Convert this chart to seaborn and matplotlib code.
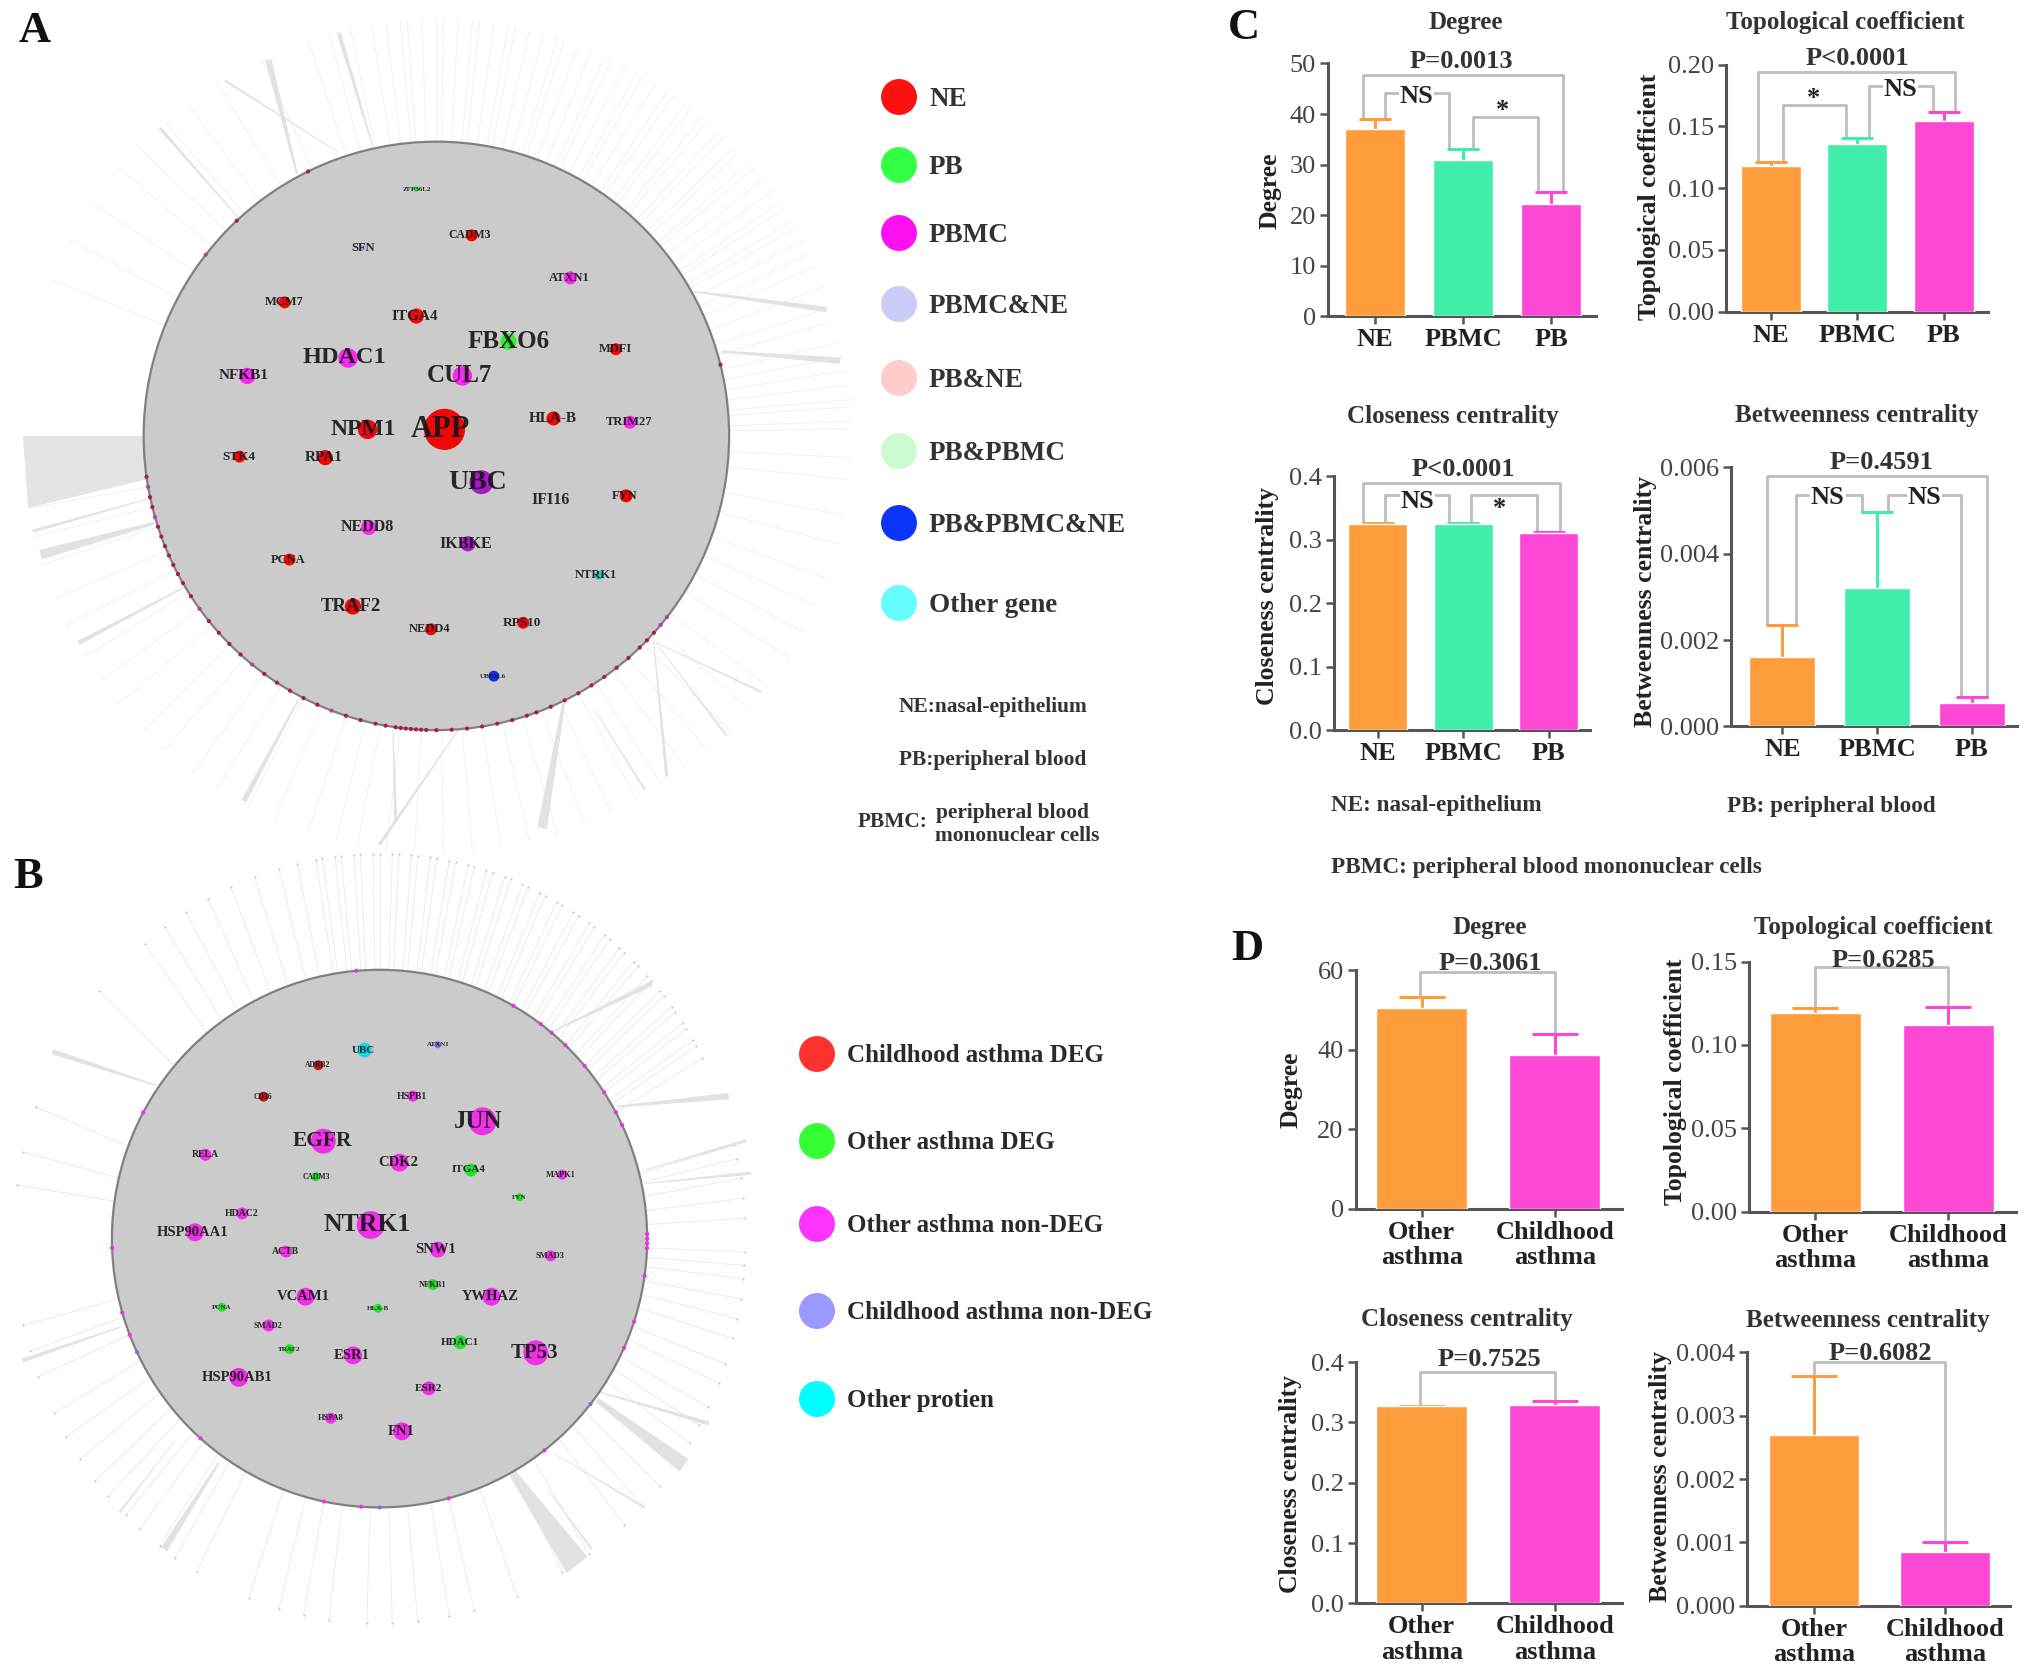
import numpy as np
import pandas as pd
import matplotlib
matplotlib.use("Agg")
import matplotlib.pyplot as plt
from matplotlib.patches import Ellipse
import seaborn as sns

sns.set_theme(style="ticks")
plt.rcParams['font.family'] = ['Liberation Serif', 'DejaVu Serif']

W, H = 2031, 1667
ORANGE, GREEN, PINK = '#ff9c3c', '#40eeaa', '#fc48d4'
DARK = '#222222'

A_names = ['APP', 'NPM1', 'HDAC1', 'FBXO6', 'CUL7', 'UBC', 'NFKB1', 'ITGA4', 'CADM3', 'SFN', 'ZFP36L2',
           'ATXN1', 'MCM7', 'MDFI', 'HLA-B', 'TRIM27', 'STK4', 'RPA1', 'IFI16', 'FYN', 'NEDD8', 'IKBKE',
           'PCNA', 'NTRK1', 'TRAF2', 'NEDD4', 'RPS10', 'UBE2L6']
A_x = [820, 678, 642, 938, 853, 888, 456, 768, 870, 670, 768, 1052, 525, 1136, 1021, 1162, 442, 600, 1015,
       1155, 680, 863, 534, 1105, 651, 795, 965, 911]
A_y = [788, 788, 657, 627, 690, 885, 690, 580, 432, 455, 347, 510, 555, 641, 768, 775, 838, 840, 918, 910,
       968, 998, 1027, 1056, 1113, 1155, 1143, 1241]
A_r = [38, 18, 18, 15, 18, 22, 15, 14, 11, 5, 5, 12, 11, 11, 13, 12, 11, 14, 3, 12, 14, 14, 11, 8, 15, 11, 11, 10]
A_group = ['NE', 'NE', 'PBMC', 'PB', 'PBMC', 'Mix', 'PBMC', 'NE', 'NE', 'PBMC&NE', 'PB', 'PBMC', 'NE', 'NE',
           'NE', 'PBMC', 'NE', 'NE', 'PB&NE', 'NE', 'PBMC', 'Mix', 'NE', 'Other', 'NE', 'NE', 'NE', 'All']
A_tx = [812, 670, 636, 938, 848, 882, 450, 766, 866, 670, 768, 1050, 524, 1135, 1020, 1160, 440, 598, 1015,
        1153, 678, 860, 532, 1100, 647, 793, 963, 910]
A_fs = [22, 17, 17.5, 18, 18, 20, 11, 11, 8.5, 9, 5, 9, 9, 9, 11, 9, 9.5, 11, 11.5, 9, 11.5, 11.5, 9, 9, 13.5, 9, 9.5, 5]

A_spoke_angles = [1, 2, 4, 5, 7, 9, 11, 13, 16, 18, 21, 24, 26, 28, 30, 31, 33, 34, 36, 38, 40, 41, 43, 44, 46, 47,
                  49, 50, 52, 53, 55, 56, 58, 60, 61, 63, 65, 66, 68, 70, 72, 73, 75, 77, 79, 80, 82, 84, 85, 87,
                  89, 90, 92, 94, 95, 97, 99, 102, 105, 108, 115, 122, 127, 131, 136, 140, 146, 152, 158, 186,
                  190, 194, 198, 203, 207, 212, 216, 220, 225, 229, 234, 238, 243, 247, 252, 256, 259, 263, 267,
                  271, 275, 279, 283, 287, 291, 295, 299, 303, 307, 311, 315, 319, 323, 328, 332, 336, 340, 345,
                  349, 354, 357]
A_rim_angles = [188, 190, 192, 194, 196, 198, 200, 202, 204, 206, 208, 210, 213, 216, 219, 222, 225, 228, 231, 234,
                237, 240, 243, 246, 249, 252, 255, 258, 260, 262, 263, 264, 265, 266, 267, 268, 270, 273, 276, 279,
                282, 285, 288, 290, 293, 296, 299, 302, 305, 308, 311, 314, 316, 318, 320, 322, 116, 133, 142, 14]
A_rim_group = ['RimN', 'RimP', 'RimN', 'RimN', 'RimP', 'RimN', 'RimN', 'RimN', 'RimN', 'RimN', 'RimN', 'RimN', 'RimN',
               'RimP', 'RimN', 'RimN', 'RimN', 'RimN', 'RimP', 'RimN', 'RimN', 'RimN', 'RimN', 'RimN', 'RimP', 'RimN',
               'RimN', 'RimN', 'RimN', 'RimN', 'RimN', 'RimN', 'RimN', 'RimN', 'RimN', 'RimN', 'RimN', 'RimN', 'RimN',
               'RimN', 'RimN', 'RimN', 'RimN', 'RimN', 'RimN', 'RimN', 'RimN', 'RimN', 'RimN', 'RimN', 'RimN', 'RimN',
               'RimN', 'RimN', 'RimP', 'RimP', 'RimN', 'RimN', 'RimP', 'RimN']
# start x, start y, end x, end y, outer width
A_thick = [(548, 320, 495, 110, 6), (688, 270, 625, 60, 4), (625, 280, 415, 148, 2), (440, 400, 295, 235, 3),
           (1280, 535, 1525, 568, 5), (1330, 645, 1550, 662, 6), (285, 960, 75, 1018, 9), (275, 915, 60, 975, 3),
           (345, 1075, 145, 1180, 4), (845, 1340, 700, 1550, 3), (1040, 1290, 1000, 1520, 9),
           (1205, 1170, 1230, 1425, 3), (725, 1340, 730, 1510, 3), (550, 1285, 450, 1470, 5),
           (1095, 1300, 1190, 1450, 2), (1210, 1180, 1340, 1350, 2), (1190, 1170, 1405, 1270, 2)]
A_wedge_x = [265, 42, 52, 270]
A_wedge_y = [800, 800, 932, 880]

# ---------- panel B network
B_names = ['JUN', 'EGFR', 'NTRK1', 'UBC', 'ATXN1', 'ADRB2', 'CD36', 'HSPB1', 'RELA', 'CDK2', 'ITGA4', 'MAPK1',
           'CADM3', 'FYN', 'HDAC2', 'HSP90AA1', 'ACTB', 'SNW1', 'SMAD3', 'NFKB1', 'YWHAZ', 'VCAM1', 'PCNA',
           'HLA-B', 'SMAD2', 'TRAF2', 'ESR1', 'HDAC1', 'TP53', 'HSP90AB1', 'ESR2', 'HSPA8', 'FN1']
B_x = [970, 650, 745, 733, 880, 640, 530, 830, 413, 803, 947, 1130, 635, 1045, 487, 392, 575, 880, 1107, 870,
       988, 614, 446, 760, 540, 582, 710, 925, 1077, 480, 862, 665, 808]
B_y = [518, 556, 716, 382, 372, 411, 471, 470, 582, 597, 611, 620, 624, 663, 694, 730, 767, 763, 775, 830, 853,
       853, 873, 875, 908, 953, 965, 940, 960, 1007, 1028, 1085, 1110]
B_r = [28, 25, 28, 15, 7, 10, 10, 11, 12, 18, 13, 10, 9, 8, 12, 18, 12, 16, 11, 11, 18, 18, 9, 9, 12, 10, 18, 14,
       25, 19, 14, 11, 18]
B_group = ['Non', 'Non', 'Non', 'Protein', 'ChildNon', 'Child', 'Child', 'Non', 'Non', 'Non', 'DEG', 'Non', 'DEG',
           'DEG', 'Non', 'Non', 'Non', 'Non', 'Non', 'DEG', 'Non', 'Non', 'DEG', 'DEG', 'Non', 'DEG', 'Non', 'DEG',
           'Non', 'Non', 'Non', 'Non', 'Non']
B_tx = [962, 648, 738, 730, 880, 638, 528, 828, 413, 800, 943, 1128, 635, 1044, 485, 388, 573, 876, 1106, 870,
        985, 610, 446, 759, 539, 581, 707, 924, 1074, 476, 861, 665, 806]
B_fs = [18, 15.5, 18.5, 8, 5, 5.5, 5.5, 7, 7, 10.5, 8, 6, 5.5, 5, 7, 10.5, 7, 10.5, 6, 6, 10.5, 10.5, 5, 5, 6, 5,
        10.5, 8, 15, 10.5, 8, 6, 10.5]

B_spoke_angles = [3, 6, 9, 12, 14, 28, 30, 31, 33, 34, 36, 37, 39, 40, 42, 43, 45, 46, 48, 49, 51, 52, 54, 55, 57,
                  58, 60, 61, 63, 64, 66, 67, 69, 70, 72, 73, 75, 76, 78, 79, 81, 82, 84, 85, 87, 88, 90, 91, 93,
                  94, 96, 97, 99, 100, 103, 106, 110, 114, 118, 122, 126, 130, 140, 160, 167, 172, 193, 197, 201,
                  207, 211, 215, 219, 222, 226, 229, 233, 236, 240, 249, 254, 258, 262, 268, 272, 276, 281, 285,
                  292, 300, 305, 312, 316, 320, 324, 328, 331, 334, 338, 341, 345, 348, 351, 354, 356, 358]
B_rim_angles = [25, 28, 33, 40, 46, 50, 53, 60, 95, 152, 182, 196, 201, 205, 228, 258, 266, 270, 285, 308, 322,
                336, 342, 352, 358, 0, 1, 359]
B_rim_group = ['Non', 'Non', 'Non', 'Non', 'Non', 'Non', 'Non', 'Non', 'Non', 'Non', 'Non', 'Non', 'Non', 'ChildNon',
               'Non', 'Non', 'Non', 'ChildNon', 'Non', 'Non', 'ChildNon', 'Non', 'Non', 'Non', 'Non', 'Non', 'Non',
               'Non']
B_thick = [(315, 450, 105, 385, 5), (1240, 490, 1465, 470, 6), (1115, 345, 1310, 255, 5), (1300, 610, 1500, 555, 3),
           (1295, 637, 1510, 617, 3), (245, 910, 45, 975, 4), (1205, 1035, 1425, 1095, 4), (1200, 1050, 1375, 1175, 15),
           (1030, 1190, 1160, 1365, 26), (440, 1170, 330, 1335, 7), (350, 1130, 240, 1265, 2), (1100, 1220, 1190, 1335, 2),
           (1110, 1150, 1295, 1255, 2)]

NET_COLORS = {'NE': '#f00808', 'PB': '#30f030', 'PBMC': '#f828f0', 'Mix': '#a818c8', 'PBMC&NE': '#a0a0f0',
              'PB&NE': '#cdc8c8', 'All': '#1030f0', 'Other': '#20c8c8', 'Non': '#f030e8', 'DEG': '#28e030',
              'Child': '#c01818', 'ChildNon': '#8070e8', 'Protein': '#18d8e0', 'RimN': '#a82040', 'RimP': '#b040a8'}

# ---------- legends
A_legend = ['NE', 'PB', 'PBMC', 'PBMC&NE', 'PB&NE', 'PB&PBMC', 'PB&PBMC&NE', 'Other gene']
A_legend_colors = ['#ff1010', '#33ff44', '#ff10f0', '#ccccf8', '#ffcccc', '#ccfbd0', '#0c34f8', '#66fdff']
A_legend_y = [97, 165, 233, 304, 378, 451, 523, 603]
B_legend = ['Childhood asthma DEG', 'Other asthma DEG', 'Other asthma non-DEG', 'Childhood asthma non-DEG', 'Other protien']
B_legend_colors = ['#ff3030', '#33ff33', '#ff33ff', '#9999ff', '#00ffff']
B_legend_y = [1054, 1141, 1224, 1311, 1399]

# ---------- bar panels
C_groups = ['NE', 'PBMC', 'PB']
D_groups = ['Other\nasthma', 'Childhood\nasthma']

C_degree = [37, 31, 22.3]
C_degree_top = [39, 33, 24.6]
C_topo = [0.118, 0.136, 0.154]
C_topo_top = [0.121, 0.141, 0.162]
C_close = [0.325, 0.325, 0.311]
C_close_top = [0.327, 0.327, 0.313]
C_betw = [0.0016, 0.0032, 0.00055]
C_betw_top = [0.00235, 0.00497, 0.00067]

D_degree = [50.5, 38.7]
D_degree_top = [53.3, 44]
D_topo = [0.119, 0.112]
D_topo_top = [0.122, 0.123]
D_close = [0.327, 0.329]
D_close_top = [0.328, 0.336]
D_betw = [0.0027, 0.00085]
D_betw_top = [0.00362, 0.00100]

C_VIEW = (1220, 0, 1.933, 1.78)
D_VIEW = (1220, 900, 1.933, 2.03)

panels = [
    dict(view=C_VIEW, title='Degree', txy=(476, 40), v=C_degree, top=C_degree_top, g=C_groups, col=[ORANGE, GREEN, PINK],
         ticks=[0, 10, 20, 30, 40, 50], labels=['0', '10', '20', '30', '40', '50'], box=(208, 727, 113, 563),
         xc=[300, 470, 638], bw=116, lx=97, ly=340, cap=11.5, ptxt=('P=0.0013', 467, 110),
         br=[(0, -.14, 39, 2, .13, 24.8, 47.8), (0, .11, 39, 1, -.16, 33, 44.2), (1, .11, 33, 2, -.15, 24.8, 39.4)],
         bl=[('NS', 380, 172), ('*', 547, 197)]),
    dict(view=C_VIEW, title='Topological coefficient', txy=(1208, 40), v=C_topo, top=C_topo_top, g=C_groups, col=[ORANGE, GREEN, PINK],
         ticks=[0, .05, .10, .15, .20], labels=['0.00', '0.05', '0.10', '0.15', '0.20'], box=(978, 1485, 115, 555),
         xc=[1065, 1232, 1400], bw=116, lx=830, ly=350, cap=11.5, ptxt=('P<0.0001', 1232, 105),
         br=[(0, -.15, .121, 2, .13, .162, .194), (0, .14, .121, 1, -.13, .141, .167), (1, .14, .141, 2, -.12, .162, .183)],
         bl=[('NS', 1316, 160), ('*', 1147, 176)]),
    dict(view=C_VIEW, title='Closeness centrality', txy=(450, 742), v=C_close, top=C_close_top, g=C_groups, col=[ORANGE, GREEN, PINK],
         ticks=[0, .1, .2, .3, .4], labels=['0.0', '0.1', '0.2', '0.3', '0.4'], box=(220, 715, 848, 1300),
         xc=[305, 470, 632], bw=114, lx=92, ly=1060, cap=11.5, ptxt=('P<0.0001', 470, 835),
         br=[(0, -.17, .327, 2, .13, .313, .39), (0, .09, .327, 1, -.16, .327, .37), (1, .09, .327, 2, -.13, .313, .37)],
         bl=[('NS', 382, 892), ('*', 541, 905)]),
    dict(view=C_VIEW, title='Betweenness centrality', txy=(1230, 740), v=C_betw, top=C_betw_top, g=C_groups, col=[ORANGE, GREEN, PINK],
         ticks=[0, .002, .004, .006], labels=['0.000', '0.002', '0.004', '0.006'], box=(988, 1540, 832, 1293),
         xc=[1087, 1270, 1456], bw=127, lx=822, ly=1070, cap=11.5, ptxt=('P=0.4591', 1278, 823),
         br=[(0, -.16, .00235, 2, .16, .00067, .0058), (0, .14, .00235, 1, -.16, .00497, .00537), (1, .12, .00497, 2, -.11, .00067, .00537)],
         bl=[('NS', 1175, 885), ('NS', 1362, 885)]),
    dict(view=D_VIEW, title='Degree', txy=(522, 55), v=D_degree, top=D_degree_top, g=D_groups, col=[ORANGE, PINK],
         ticks=[0, 20, 40, 60], labels=['0', '20', '40', '60'], box=(262, 778, 143, 627),
         xc=[390, 647], bw=176, lx=137, ly=385, cap=16.5, ptxt=('P=0.3061', 523, 128),
         br=[(0, -.01, 53.5, 1, 0, 44, 59.5)], bl=[]),
    dict(view=D_VIEW, title='Topological coefficient', txy=(1262, 55), v=D_topo, top=D_topo_top, g=D_groups, col=[ORANGE, PINK],
         ticks=[0, .05, .10, .15], labels=['0.00', '0.05', '0.10', '0.15'], box=(1023, 1538, 125, 633),
         xc=[1151, 1408], bw=177, lx=880, ly=370, cap=16.5, ptxt=('P=0.6285', 1282, 122),
         br=[(0, 0, .122, 1, 0, .123, .1465)], bl=[]),
    dict(view=D_VIEW, title='Closeness centrality', txy=(478, 852), v=D_close, top=D_close_top, g=D_groups, col=[ORANGE, PINK],
         ticks=[0, .1, .2, .3, .4], labels=['0.0', '0.1', '0.2', '0.3', '0.4'], box=(262, 778, 938, 1428),
         xc=[390, 647], bw=176, lx=137, ly=1185, cap=16.5, ptxt=('P=0.7525', 521, 933),
         br=[(0, -.01, .328, 1, 0, .336, .383)], bl=[]),
    dict(view=D_VIEW, title='Betweenness centrality', txy=(1253, 853), v=D_betw, top=D_betw_top, g=D_groups, col=[ORANGE, PINK],
         ticks=[0, .001, .002, .003, .004], labels=['0.000', '0.001', '0.002', '0.003', '0.004'], box=(1018, 1527, 918, 1433),
         xc=[1148, 1401], bw=173, lx=852, ly=1170, cap=16.5, ptxt=('P=0.6082', 1277, 921),
         br=[(0, 0, .00362, 1, 0, .00100, .00385)], bl=[]),
]

fig = plt.figure(figsize=(W / 100, H / 100), dpi=100, facecolor='white')


def axes_px(left, top, right, bottom):
    return fig.add_axes([left / W, 1 - bottom / H, (right - left) / W, (bottom - top) / H])


def draw_network(crop, cx, cy, rad, squash, outer, angles, spoke_col, thick, rim, rim_group, names, xs, ys, rs, groups,
                 tx, fs, sx, tips=False):
    ax = axes_px(*crop)
    a = np.radians(angles)
    for t in a:
        ax.plot([cx + rad * np.cos(t), cx + outer * np.cos(t)],
                [cy - rad * squash * np.sin(t), cy - outer * np.sin(t)],
                color=spoke_col, lw=0.7, zorder=1)
    if tips:
        ax.scatter(cx + outer * np.cos(a), cy - outer * np.sin(a), s=2, color='#c0c0c0', linewidths=0, zorder=1)
    for x0, y0, x1, y1, w in thick:
        d = np.array([x1 - x0, y1 - y0], dtype=float)
        n = np.array([-d[1], d[0]]) / np.hypot(*d)
        pts = [np.array([x0, y0]) + n * w * .3, np.array([x1, y1]) + n * w, np.array([x1, y1]) - n * w,
               np.array([x0, y0]) - n * w * .3]
        ax.fill([p[0] for p in pts], [p[1] for p in pts], color='#e2e2e2', lw=0, zorder=2)
    ax.add_patch(Ellipse((cx, cy), 2 * rad, 2 * rad * squash, facecolor='#cbcbcb', edgecolor='#808080', lw=1.6, zorder=3))
    b = np.radians(rim)
    sns.scatterplot(x=cx + rad * np.cos(b), y=cy - rad * squash * np.sin(b), hue=rim_group, palette=NET_COLORS, s=9,
                    linewidth=0, legend=False, ax=ax, zorder=4)
    sizes = [(2 * r / sx * .72) ** 2 for r in rs]
    sns.scatterplot(x=xs, y=ys, hue=groups, palette=NET_COLORS, s=sizes, linewidth=0, legend=False, ax=ax, zorder=5)
    for name, x, y, size in zip(names, tx, ys, fs):
        ax.text(x, y, name, ha='center', va='center', fontsize=size, fontweight='bold', color='#151515', alpha=.9, zorder=6)
    ax.set_xlim(0, 1568)
    ax.set_ylim(1560, 0)
    ax.axis('off')
    return ax


ax_a = draw_network((0, 0, 850, 850), 805, 800, 540, 1.0, 765, A_spoke_angles, '#f1f1f1', A_thick, A_rim_angles, A_rim_group,
                    A_names, A_x, A_y, A_r, A_group, A_tx, A_fs, 1.845)
ax_a.fill(A_wedge_x, A_wedge_y, color='#e4e4e4', lw=0, zorder=2)

draw_network((0, 850, 780, 1667), 763, 742, 538, 0.954, 735, B_spoke_angles, '#ececec', B_thick, B_rim_angles, B_rim_group,
             B_names, B_x, B_y, B_r, B_group, B_tx, B_fs, 2.01, tips=True)

# bar charts
canvas = fig.add_axes([0, 0, 1, 1], zorder=10)
canvas.patch.set_alpha(0)

for p in panels:
    ox, oy, sx, sy = p['view']
    l, r, t, b = p['box']
    ax = axes_px(ox + l / sx, oy + t / sy, ox + r / sx, oy + b / sy)
    xc = p['xc']
    step = xc[1] - xc[0]
    df = pd.DataFrame({'group': p['g'], 'value': p['v']})
    sns.barplot(data=df, x='group', y='value', hue='group', palette=p['col'], order=p['g'], hue_order=p['g'],
                width=p['bw'] / step, errorbar=None, saturation=1, legend=False, ax=ax, zorder=3)
    pos = list(range(len(p['g'])))
    for i in pos:
        cont = ax.errorbar(i, p['v'][i], yerr=[[0], [p['top'][i] - p['v'][i]]], color=p['col'][i], elinewidth=2.2,
                           capsize=p['cap'], capthick=2.2, fmt='none', zorder=2)
        cont.lines[1][0].set_visible(False)
    for i0, d0, y0, i1, d1, y1, ytop in p['br']:
        ax.plot([i0 + d0, i0 + d0, i1 + d1, i1 + d1], [y0, ytop, ytop, y1], color='#bdbdbd', lw=2, zorder=1, clip_on=False)
    for txt, zx, zy in p['bl']:
        canvas.text(ox + zx / sx, oy + zy / sy, txt, ha='center', va='center', fontsize=19, fontweight='bold', color=DARK,
                    bbox=dict(facecolor='white', edgecolor='none', pad=0.5) if txt == 'NS' else None)
    pt, zx, zy = p['ptxt']
    canvas.text(ox + zx / sx, oy + zy / sy, pt, ha='center', va='center', fontsize=19, fontweight='bold', color='#333333')
    canvas.text(ox + p['txy'][0] / sx, oy + p['txy'][1] / sy, p['title'], ha='center', va='center', fontsize=18,
                fontweight='bold', color='#333333')
    ax.set_xlim((l - xc[0]) / step, (r - xc[0]) / step)
    ax.set_ylim(p['ticks'][0], p['ticks'][-1])
    ax.set_yticks(p['ticks'])
    ax.set_yticklabels(p['labels'], fontsize=19, color='#444444')
    ax.set_xticks(pos)
    ax.set_xticklabels(p['g'], fontsize=19, fontweight='bold', color=DARK, linespacing=1.15)
    ax.tick_params(length=5.5, width=1.8, color='#555555', pad=3)
    ax.set_xlabel('')
    ax.set_ylabel(p['title'], fontsize=18.5, fontweight='bold', color=DARK, va='center')
    ax.yaxis.set_label_coords((p['lx'] - l) / (r - l), 1 - (p['ly'] - t) / (b - t))
    ax.patch.set_alpha(0)
    for s in ['top', 'right']:
        ax.spines[s].set_visible(False)
    for s in ['left', 'bottom']:
        ax.spines[s].set_color('#555555')
        ax.spines[s].set_linewidth(2.2)

# legends and notes
sns.scatterplot(x=[899] * len(A_legend), y=A_legend_y, hue=A_legend, palette=dict(zip(A_legend, A_legend_colors)), s=670,
                linewidth=0, legend=False, ax=canvas)
for lab, y in zip(A_legend, A_legend_y):
    canvas.text(929, y + 2, lab, va='center', fontsize=19.5, fontweight='bold', color='#333333')
sns.scatterplot(x=[817] * len(B_legend), y=B_legend_y, hue=B_legend, palette=dict(zip(B_legend, B_legend_colors)), s=670,
                linewidth=0, legend=False, ax=canvas)
for lab, y in zip(B_legend, B_legend_y):
    canvas.text(847, y + 1, lab, va='center', fontsize=18, fontweight='bold', color='#2a2a2a')
canvas.set_xlim(0, W)
canvas.set_ylim(H, 0)
canvas.axis('off')

note = dict(fontweight='bold', color='#333333', va='center')
canvas.text(993, 707, 'NE:nasal-epithelium', ha='center', fontsize=15.4, **note)
canvas.text(993, 760, 'PB:peripheral blood', ha='center', fontsize=15.4, **note)
canvas.text(928, 822, 'PBMC:', ha='right', fontsize=15.4, **note)
canvas.text(936, 813, 'peripheral blood', fontsize=15.4, **note)
canvas.text(935, 836, 'mononuclear cells', fontsize=15.4, **note)
canvas.text(1331, 805, 'NE: nasal-epithelium', fontsize=16.7, **note)
canvas.text(1727, 806, 'PB: peripheral blood', fontsize=16.7, **note)
canvas.text(1331, 867, 'PBMC: peripheral blood mononuclear cells', fontsize=16.7, **note)

for letter, x, y in [('A', 35, 31), ('B', 28, 877), ('C', 1244, 28), ('D', 1247, 949)]:
    canvas.text(x, y, letter, ha='center', va='center', fontsize=32, fontweight='bold', color='#111111')

fig.savefig('out.png', dpi=100)
